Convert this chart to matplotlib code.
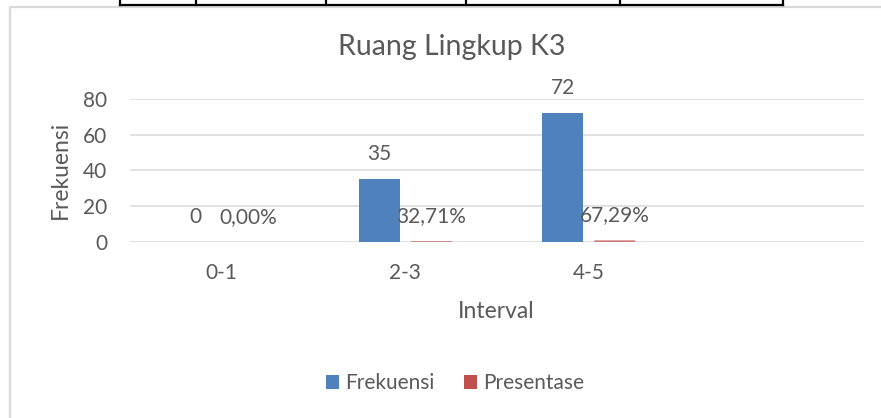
import matplotlib
matplotlib.use("Agg")
import matplotlib.pyplot as plt
import numpy as np
from matplotlib.lines import Line2D
from matplotlib.patches import Patch

# ---- data ----
categories = ["0-1", "2-3", "4-5", ""]
frekuensi = [0, 35, 72, np.nan]
presentase = [0.0, 0.3271, 0.6729, np.nan]
yticks = [0, 20, 40, 60, 80]
title = "Ruang Lingkup K3"
xlabel = "Interval"
ylabel = "Frekuensi"
series_names = ["Frekuensi", "Presentase"]

W, H = 881, 418
BLUE = "#4F81BD"
RED = "#C0504D"
TXT = "#595959"
GRID = "#D9D9D9"
FONT = ["Lato", "DejaVu Sans"]
plt.rcParams["font.family"] = FONT

fig = plt.figure(figsize=(W / 100, H / 100), dpi=100)

def fx(px):
    return px / W

def fy(py):
    return 1 - py / H

# plot area
left, right, top, bottom = 130, 864, 99, 241.7
ax = fig.add_axes([fx(left), fy(bottom), fx(right - left), (bottom - top) / H])

x = np.arange(len(categories))
bw = 0.223
off = 0.142
valid = [i for i, v in enumerate(frekuensi) if not np.isnan(v)]
xv = x[valid]
fv = np.array(frekuensi)[valid]
pv = np.array(presentase)[valid]
ax.bar(xv - off, fv, width=bw, color=BLUE, zorder=3)
ax.bar(xv + off, pv, width=bw, color=RED, zorder=3, snap=False)

LBL = 15
for xi, v in zip(xv, fv):
    ax.annotate(f"{v:g}", (xi - off, v), xytext=(0, 18), textcoords="offset points",
                ha="center", va="center", fontsize=LBL, color=TXT)
for xi, v in zip(xv, pv):
    lab = f"{v * 100:.2f}%".replace(".", ",")
    ax.annotate(lab, (xi + off, v), xytext=(0, 18), textcoords="offset points",
                ha="center", va="center", fontsize=LBL, color=TXT)

ax.set_xlim(-0.5, len(categories) - 0.5)
ax.set_ylim(0, 80)
ax.set_yticks(yticks)
ax.set_xticks(x)
ax.set_xticklabels(categories)
ax.yaxis.grid(True, color=GRID, linewidth=1.1, zorder=0)
ax.set_axisbelow(True)
for s in ax.spines.values():
    s.set_visible(False)
ax.tick_params(axis="both", length=0, labelsize=15, labelcolor=TXT)
ax.tick_params(axis="y", pad=16.5)
ax.tick_params(axis="x", pad=15)

# titles
fig.text(fx(451.5), fy(47), title, ha="center", va="center", fontsize=20.5, color=TXT)
fig.text(fx(60), fy(170), ylabel, ha="center", va="center", rotation=90, fontsize=16.5, color=TXT)
fig.text(fx(496), fy(311), xlabel, ha="center", va="center", fontsize=16.5, color=TXT)

# legend
handles = [Patch(facecolor=BLUE, edgecolor="none"), Patch(facecolor=RED, edgecolor="none")]
fig.legend(handles, series_names, loc="center", bbox_to_anchor=(fx(455), fy(383)),
           ncol=2, frameon=False, fontsize=15, labelcolor=TXT,
           handlelength=0.65, handleheight=0.65, handletextpad=0.3, columnspacing=1.4,
           borderpad=0, borderaxespad=0)

# chart border (light gray)
fig.add_artist(Line2D([fx(9.5), fx(9.5), 1.0], [0, fy(7), fy(7)], color=GRID,
                      linewidth=1.6, transform=fig.transFigure))

# table fragment at top
fig.add_artist(Line2D([fx(120), fx(783)], [fy(5), fy(5)], color="black",
                      linewidth=1.6, transform=fig.transFigure))
for vx in [120, 196, 326, 466, 620, 783]:
    fig.add_artist(Line2D([fx(vx), fx(vx)], [fy(5), 1.0], color="black",
                          linewidth=1.6, transform=fig.transFigure))

fig.savefig("out.png", dpi=100)
